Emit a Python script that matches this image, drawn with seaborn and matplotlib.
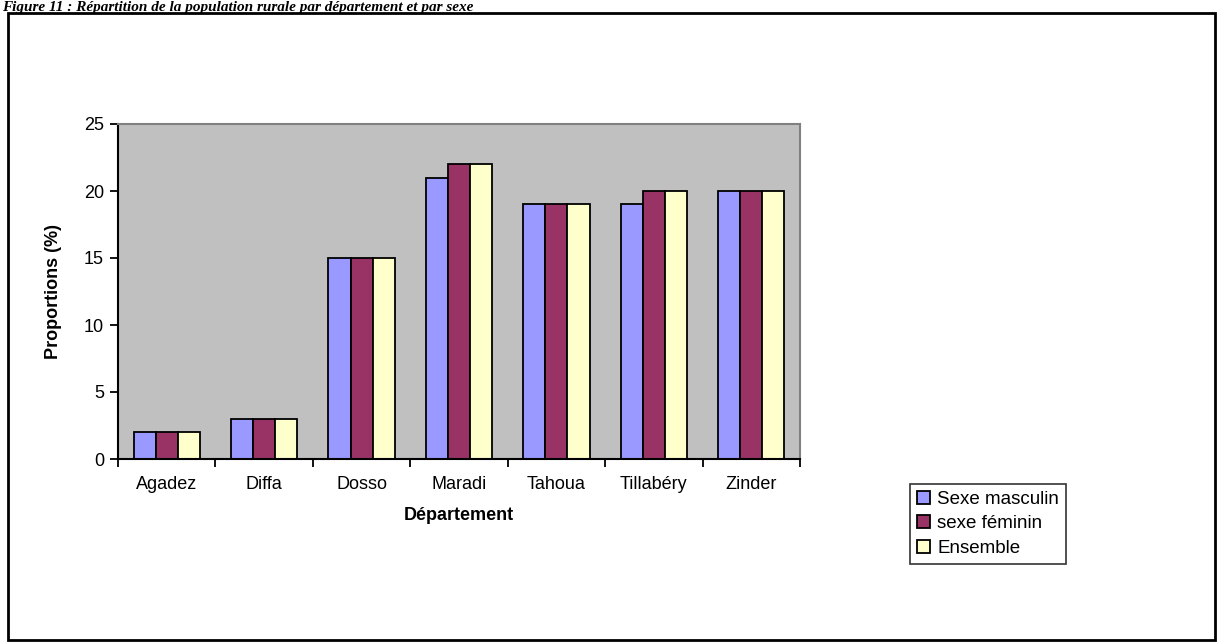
import matplotlib
matplotlib.use('Agg')
import matplotlib.pyplot as plt
import pandas as pd
import seaborn as sns
from matplotlib.patches import Rectangle

departements = ['Agadez', 'Diffa', 'Dosso', 'Maradi', 'Tahoua', 'Tillabéry', 'Zinder']
series = ['Sexe masculin', 'sexe féminin', 'Ensemble']
masculin = [2, 3, 15, 21, 19, 19, 20]
feminin = [2, 3, 15, 22, 19, 20, 20]
ensemble = [2, 3, 15, 22, 19, 20, 20]

colors = ['#9999FF', '#993366', '#FFFFCC']

df = pd.DataFrame({
    'dept': departements * 3,
    'serie': [s for s in series for _ in departements],
    'val': masculin + feminin + ensemble,
})

sns.set_theme(style='white')
plt.rcParams['font.family'] = ['Liberation Sans', 'DejaVu Sans']
plt.rcParams['text.color'] = 'black'
plt.rcParams['axes.labelcolor'] = 'black'
plt.rcParams['xtick.color'] = 'black'
plt.rcParams['ytick.color'] = 'black'

fig = plt.figure(figsize=(12.23, 6.43), dpi=100)
ax = fig.add_axes([118 / 1223, 1 - 459 / 643, (800 - 118) / 1223, (459 - 124) / 643])

sns.barplot(data=df, x='dept', y='val', hue='serie', hue_order=series,
            order=departements, palette=colors, saturation=1, width=0.68,
            edgecolor='black', linewidth=1.3, ax=ax)

ax.set_facecolor('#C0C0C0')
ax.set_ylim(0, 25)
ax.set_xlim(-0.5, 6.5)
ax.set_yticks(range(0, 26, 5))
ax.tick_params(axis='y', direction='out', length=6, width=1.3, color='black',
               labelsize=13, left=True, pad=4)
ax.tick_params(axis='x', which='major', length=0, labelsize=13, pad=12)
ax.set_xticks([i - 0.5 for i in range(8)], minor=True)
ax.tick_params(axis='x', which='minor', direction='out', length=6, width=1.3,
               color='black', bottom=True)

for side in ['left', 'bottom']:
    ax.spines[side].set_color('black')
    ax.spines[side].set_linewidth(1.5)
for side in ['top', 'right']:
    ax.spines[side].set_color('#808080')
    ax.spines[side].set_linewidth(1.5)

ax.set_ylabel('Proportions (%)', fontsize=13, fontweight='bold', labelpad=16)
ax.set_xlabel('Département', fontsize=13, fontweight='bold', labelpad=10)

leg = ax.legend(loc='upper left', bbox_to_anchor=(910 / 1223, 1 - 484 / 643),
                bbox_transform=fig.transFigure, fontsize=13.5, frameon=True,
                fancybox=False, edgecolor='black', handlelength=0.7,
                handleheight=0.7, handletextpad=0.4, borderpad=0.35,
                labelspacing=0.4, borderaxespad=0, title=None)
leg.get_frame().set_linewidth(1.2)

fig.patches.append(Rectangle((8 / 1223, 3 / 643), 1207 / 1223, 627 / 643,
                             transform=fig.transFigure, fill=False,
                             edgecolor='black', linewidth=2))

fig.text(2 / 1223, 1 - 1 / 643,
         'Figure 11 : Répartition de la population rurale par département et par sexe',
         family=['Liberation Serif', 'DejaVu Serif'], style='italic',
         fontweight='bold', fontsize=11, va='top', ha='left')

fig.savefig('out.png', dpi=100)
